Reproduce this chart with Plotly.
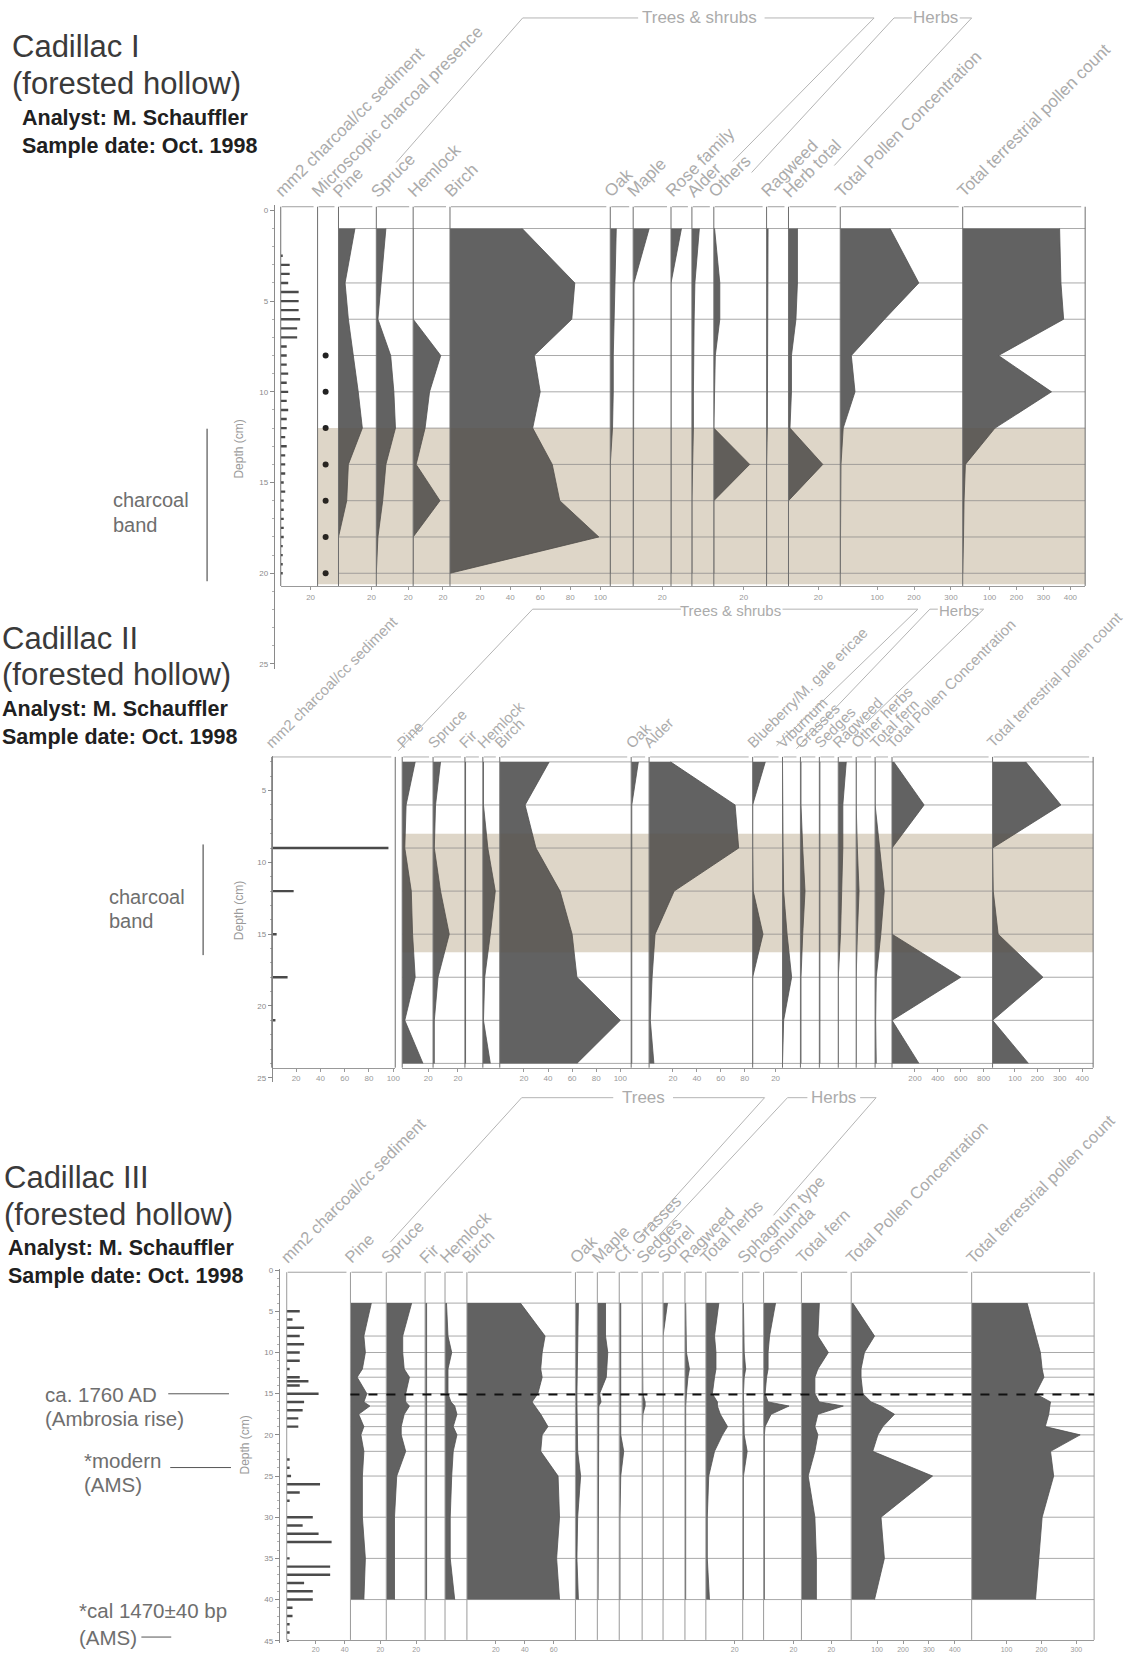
import plotly.graph_objects as go

W, H = 1127, 1655
FONT = "Liberation Sans, Arial, Helvetica, sans-serif"


def fx(px):
    return px / W


def fy(py):
    return 1 - py / H


# ======================= DATA =======================
# ---- Cadillac I ----
c1_depth = [1, 4, 6, 8, 10, 12, 14, 16, 18, 20]
c1_micro = [0, 0, 0, 1, 1, 1, 1, 1, 1, 1]
c1_pine = [10, 4, 6, 9, 12, 14.5, 6, 5, 0, 0]
c1_spruce = [6, 3, 1, 9, 11, 12, 6, 4, 1, 0]
c1_hemlock = [0, 0, 0, 18.5, 11, 8, 2, 18, 0, 0]
c1_birch = [48, 83, 81, 56, 60, 55, 68, 73, 99, 0]
c1_oak = [4, 3, 2.5, 2, 2, 1.5, 0, 0, 0, 0]
c1_maple = [11, 0.5, 0.5, 0.5, 0.5, 0.5, 0, 0, 0, 0]
c1_rose = [7, 0, 0, 0, 0, 0, 0, 0, 0, 0]
c1_alder = [5, 2, 1.5, 1, 1, 1, 0.5, 0, 0, 0]
c1_others = [0.5, 4, 4, 1, 0.5, 0, 24, 0, 0, 0]
c1_ragweed = [1, 1, 1, 1, 1, 0.5, 0, 0, 0, 0]
c1_herbs = [6, 6, 5, 2, 2, 1, 23, 0, 0, 0]
c1_conc = [135, 213, 120, 30, 40, 8, 2, 1, 0, 0]
c1_count = [360, 365, 375, 133, 330, 120, 10, 5, 3, 0]
c1_char_depth = [2.5, 3, 3.5, 4, 4.5, 5, 5.5, 6, 6.5, 7, 7.5, 8, 8.5, 9, 9.5, 10,
                 10.5, 11, 11.5, 12, 12.5, 13, 13.5, 14, 14.5, 15, 15.5, 16, 16.5,
                 17, 17.5, 18, 18.5, 19, 19.5, 20]
c1_char = [1, 6, 6, 5, 12, 12, 12, 13, 11, 11, 4, 4, 4, 5, 4, 5,
           4, 5, 4, 4, 3, 4, 3, 3, 3, 2, 3, 2, 2,
           2, 2, 2, 1, 1, 1, 1]
c1_band = [12, 20.6]

# ---- Cadillac II ----
c2_depth = [3, 6, 9, 12, 15, 18, 21, 24]
c2_char = [0, 0, 96, 18, 4, 13, 3, 0]
c2_pine = [10, 3, 2, 7, 8, 10, 2, 16]
c2_spruce = [6, 2, 1, 6, 13, 4, 1, 1]
c2_fir = [0.5, 0.5, 0.5, 1, 1, 0.5, 0.5, 0.5]
c2_hemlock = [0.5, 0.5, 4, 10, 6, 1.5, 0.5, 6]
c2_birch = [41, 21, 30, 50, 60, 64, 100, 64]
c2_oak = [6, 0.5, 0.5, 0.5, 0.5, 0.5, 0.5, 0.5]
c2_alder = [18, 72, 75, 21, 5, 2.5, 1, 4]
c2_blueberry = [11, 0, 0, 0.5, 9, 0, 0, 0]
c2_viburnum = [0, 0, 0.5, 1, 4, 8, 1, 0]
c2_grasses = [0.5, 0.5, 2, 4, 2, 0.5, 0.5, 0.5]
c2_sedges = [0.5, 0.5, 0.5, 0.5, 0.5, 0.5, 0.5, 0.5]
c2_ragweed = [7, 4, 4, 3, 2, 0, 0, 0]
c2_otherherbs = [0, 0, 1, 2.5, 1, 0, 0, 0]
c2_fern = [0, 0, 4, 8, 5, 1, 0.5, 1]
c2_conc = [15, 280, 0, 0, 0, 600, 0, 235]
c2_count = [148, 305, 0, 3, 25, 225, 0, 160]
c2_band = [8, 16.25]

# ---- Cadillac III ----
c3_depth = [4, 8, 10, 12, 13, 15, 16, 16.5, 17.5, 19, 20, 22, 25, 30, 35, 40]
c3_pine = [14, 9, 10, 8, 4.5, 11, 9, 13, 5.5, 9, 7, 9, 8, 8, 10, 9]
c3_spruce = [17, 11, 11, 12, 15.5, 13, 13, 15.5, 12, 10, 10, 13, 7, 5.5, 5.5, 5.5]
c3_fir = [1, 1, 1, 1, 1, 1, 1, 1, 1, 1, 1, 1, 1, 1, 1, 1]
c3_hemlock = [1, 2, 4.5, 2, 2, 2, 4, 6.5, 8, 5.5, 8, 5.5, 4.5, 3.5, 3.5, 6.5]
c3_birch = [37, 54, 52, 51, 52, 49, 45, 47, 51, 56, 52, 51, 63, 64, 62, 64]
c3_oak = [2, 1.5, 1.5, 1, 1, 1, 1, 1, 1, 1, 1, 1.5, 3.5, 1.5, 1, 2]
c3_maple = [5.5, 5.5, 7, 6.5, 6, 1.5, 2.5, 1, 1, 1, 0.5, 0.5, 0.5, 0.5, 0.5, 0.5]
c3_grasses = [1, 1, 1, 1, 1, 1, 1, 1, 1, 1, 1, 3, 1, 0.5, 0.5, 0.5]
c3_sedges = [0, 0, 0, 0, 0, 0.5, 2, 2, 0.5, 0, 0, 0, 0, 0, 0, 0]
c3_sorrel = [3, 0, 0, 0, 0, 0, 0, 0, 0, 0, 0, 0, 0, 0, 0, 0]
c3_ragweed = [0.5, 0.5, 1, 3, 2, 1, 0.5, 0.5, 0.5, 0.5, 0.5, 0.5, 0.5, 0.5, 0.5, 0.5]
c3_herbs = [9, 6, 7, 7, 6, 4.5, 8, 8, 10, 15, 11.5, 6, 2, 1, 1, 2.5]
c3_sphagnum = [0.5, 0.5, 1, 2, 1, 0.5, 0.5, 0.5, 0.5, 1, 1, 3, 0.5, 0.5, 0.5, 0.5]
c3_osmunda = [8, 4, 3, 3, 2, 1, 3, 17, 5, 1, 0.5, 0.5, 0.5, 0.5, 0.5, 0.5]
c3_fern = [12, 11, 18, 11, 9, 9, 12, 28, 11, 9, 11, 9, 4.5, 9, 10, 10]
c3_conc = [6, 90, 51, 38, 38, 45, 77, 115, 167, 122, 103, 83, 314, 115, 128, 90]
c3_count = [159, 183, 197, 202, 207, 183, 226, 224, 221, 211, 311, 226, 235, 202, 192, 183]
c3_char_depth = [5, 6, 7, 8, 9, 10, 11, 12, 13, 13.5, 14, 15, 16, 17, 18, 19, 23, 24,
                 25, 26, 27, 28, 30, 31, 32, 33, 35, 36, 37, 38, 39, 40, 41, 42, 43, 44, 45]
c3_char = [9, 4, 12, 9, 12, 9, 9, 2, 9, 15, 9, 22, 12, 11, 8, 8, 2, 2,
           3, 23, 9, 2, 18, 11, 22, 31, 2, 30, 30, 12, 18, 18, 4, 4, 2, 2, 1]
c3_ambrosia_depth = 15.1

# ======================= LAYOUT HELPERS =======================
fig = go.Figure()
axes = {}
shapes = []
anns = []
state = {"n": 0}

LABEL_C = "#ababab"
TICK_C = "#999999"
FILL_C = "#626262"


def pline(x0, y0, x1, y1, color="#b0b0b0", width=1, dash="solid"):
    shapes.append(dict(type="line", xref="paper", yref="paper",
                       x0=fx(x0), y0=fy(y0), x1=fx(x1), y1=fy(y1),
                       line=dict(color=color, width=width, dash=dash), layer="above"))


def ptext(x, y, text, size, color, xanchor="left", yanchor="middle", angle=0):
    anns.append(dict(xref="paper", yref="paper", x=fx(x), y=fy(y), text=text,
                     showarrow=False, xanchor=xanchor, yanchor=yanchor,
                     textangle=angle, font=dict(family=FONT, size=size, color=color)))


def new_xaxis(left, right, xmax, bottom_px, ticks, tsize):
    state["n"] += 1
    n = state["n"]
    key = "xaxis" if n == 1 else f"xaxis{n}"
    ref = "x" if n == 1 else f"x{n}"
    axes[key] = dict(domain=[fx(left), fx(right)], range=[0, xmax], anchor="free",
                     position=fy(bottom_px), showline=True, linecolor=TICK_C, linewidth=1,
                     ticks="outside", ticklen=3, tickwidth=1, tickcolor=TICK_C,
                     tickmode="array", tickvals=ticks, ticktext=[str(t) for t in ticks],
                     tickfont=dict(family=FONT, size=tsize, color=TICK_C),
                     showgrid=False, zeroline=False, fixedrange=True)
    return ref


def build_panel(P, cols):
    yref = P["yref"]
    ykey = "yaxis" if yref == "y" else "yaxis" + yref[1:]
    py = lambda d: P["px0"] + P["scale"] * d
    axes[ykey] = dict(domain=[fy(py(P["d_bot"])), fy(py(P["d_top"]))],
                      range=[P["d_bot"], P["d_top"]], anchor="free",
                      position=fx(P["axis_x"]), showline=True, linecolor="#8a8a8a",
                      ticks="outside", ticklen=4, tickcolor="#8a8a8a",
                      tickmode="array", tickvals=P["yticks"],
                      tickfont=dict(family=FONT, size=8, color="#8a8a8a"),
                      minor=dict(ticks="outside", dtick=1, ticklen=2, tickcolor="#b0b0b0"),
                      showgrid=False, zeroline=False, fixedrange=True)
    f_top, f_bot = P["frame"]
    bot_px = py(f_bot)
    top_px = py(f_top)

    if P.get("band"):
        b0, b1 = P["band"]
        # light tan underneath ...
        shapes.append(dict(type="rect", xref="paper", yref=yref, x0=fx(P["band_x"][0]),
                           x1=fx(P["band_x"][1]), y0=b0, y1=b1,
                           fillcolor="#efe9de", line=dict(width=0), layer="below"))
        # ... plus a faint brown veil on top that also tints the silhouettes
        shapes.append(dict(type="rect", xref="paper", yref=yref, x0=fx(P["band_x"][0]),
                           x1=fx(P["band_x"][1]), y0=b0, y1=b1,
                           fillcolor="rgba(90,60,25,0.11)", line=dict(width=0), layer="above"))
    for d in P["samples"]:
        shapes.append(dict(type="line", xref="paper", yref=yref, x0=fx(P["hline_x"][0]),
                           x1=fx(P["hline_x"][1]), y0=d, y1=d,
                           line=dict(color="#a9a9a9", width=1), layer="below"))

    xs = set()
    for label, kind, depths, vals, left, right, xmax, ticks in cols:
        ref = new_xaxis(left, right, xmax, bot_px, ticks, P["tick_size"])
        xs.add(left)
        xs.add(right)
        if kind == "fill":
            fig.add_trace(go.Scatter(x=vals, y=depths, xaxis=ref, yaxis=yref, mode="lines",
                                     fill="tozerox", fillcolor=FILL_C,
                                     line=dict(color="#525252", width=0.8),
                                     hoverinfo="skip", showlegend=False))
        elif kind == "bar":
            fig.add_trace(go.Bar(x=vals, y=depths, xaxis=ref, yaxis=yref, orientation="h",
                                 width=P["bar_w"], marker=dict(color="#4a4a4a", line=dict(width=0)),
                                 hoverinfo="skip", showlegend=False))
        elif kind == "dot":
            dd = [d for d, v in zip(depths, vals) if v]
            vv = [v for v in vals if v]
            fig.add_trace(go.Scatter(x=vv, y=dd, xaxis=ref, yaxis=yref, mode="markers",
                                     marker=dict(color="#222222", size=6),
                                     hoverinfo="skip", showlegend=False))
        shapes.append(dict(type="line", xref="paper", yref=yref, x0=fx(left + 1),
                           x1=fx(right - 4), y0=f_top, y1=f_top,
                           line=dict(color="#a0a0a0", width=1), layer="above"))
        ptext(left - 12, top_px - 3, label, P["label_size"], LABEL_C, "left", "bottom", -45)
    for x in sorted(xs):
        shapes.append(dict(type="line", xref="paper", yref=yref, x0=fx(x), x1=fx(x),
                           y0=f_top, y1=f_bot, line=dict(color=P["vcol"], width=1),
                           layer="above"))


# ======================= PANEL 1 =======================
P1 = dict(yref="y", px0=208, scale=18.2, d_top=-0.3, d_bot=25.3, axis_x=275,
          yticks=[0, 5, 10, 15, 20, 25], frame=(-0.2, 20.7), band=c1_band,
          band_x=(319, 1090), samples=c1_depth, hline_x=(340, 1090), bar_w=0.13,
          vcol="#6e6e6e", tick_size=8, label_size=17)
cols1 = [
    ("mm2 charcoal/cc sediment", "bar", c1_char_depth, c1_char, 282, 319, 24.7, [20]),
    ("Microscopic charcoal presence", "dot", c1_depth, c1_micro, 319, 340, 2.6, []),
    ("Pine", "fill", c1_depth, c1_pine, 340, 378, 23, [20]),
    ("Spruce", "fill", c1_depth, c1_spruce, 378, 415, 23.1, [20]),
    ("Hemlock", "fill", c1_depth, c1_hemlock, 415, 452, 24.7, [20]),
    ("Birch", "fill", c1_depth, c1_birch, 452, 613, 106.6, [20, 40, 60, 80, 100]),
    ("Oak", "fill", c1_depth, c1_oak, 613, 636, 15.3, []),
    ("Maple", "fill", c1_depth, c1_maple, 636, 674, 26, [20]),
    ("Rose family", "fill", c1_depth, c1_rose, 674, 695, 14, []),
    ("Alder", "fill", c1_depth, c1_alder, 695, 717, 14.7, []),
    ("Others", "fill", c1_depth, c1_others, 717, 770, 35.3, [20]),
    ("Ragweed", "fill", c1_depth, c1_ragweed, 770, 792, 14.7, []),
    ("Herb total", "fill", c1_depth, c1_herbs, 792, 844, 34.7, [20]),
    ("Total Pollen Concentration", "fill", c1_depth, c1_conc, 844, 967, 332, [100, 200, 300]),
    ("Total terrestrial pollen count", "fill", c1_depth, c1_count, 967, 1090, 455, [100, 200, 300, 400]),
]
build_panel(P1, cols1)

# ======================= PANEL 2 =======================
P2 = dict(yref="y2", px0=718, scale=14.4, d_top=2.6, d_bot=25.3, axis_x=273,
          yticks=[5, 10, 15, 20, 25], frame=(2.65, 24.3), band=c2_band,
          band_x=(404, 1098), samples=c2_depth, hline_x=(404, 1098), bar_w=0.17,
          vcol="#6e6e6e", tick_size=8, label_size=15)
cols2 = [
    ("mm2 charcoal/cc sediment", "bar", c2_depth, c2_char, 273, 397, 101.6, [20, 40, 60, 80, 100]),
    ("Pine", "fill", c2_depth, c2_pine, 404, 435, 23.8, [20]),
    ("Spruce", "fill", c2_depth, c2_spruce, 435, 467, 25.6, [20]),
    ("Fir", "fill", c2_depth, c2_fir, 467, 485, 14.4, []),
    ("Hemlock", "fill", c2_depth, c2_hemlock, 485, 502, 13.6, []),
    ("Birch", "fill", c2_depth, c2_birch, 502, 634, 109, [20, 40, 60, 80, 100]),
    ("Oak", "fill", c2_depth, c2_oak, 634, 652, 15, []),
    ("Alder", "fill", c2_depth, c2_alder, 652, 756, 86.7, [20, 40, 60, 80]),
    ("Blueberry/M. gale ericae", "fill", c2_depth, c2_blueberry, 756, 786, 26, [20]),
    ("Viburnum", "fill", c2_depth, c2_viburnum, 786, 804, 15.7, []),
    ("Grasses", "fill", c2_depth, c2_grasses, 804, 823, 16.5, []),
    ("Sedges", "fill", c2_depth, c2_sedges, 823, 842, 16.5, []),
    ("Ragweed", "fill", c2_depth, c2_ragweed, 842, 860, 15.7, []),
    ("Other herbs", "fill", c2_depth, c2_otherherbs, 860, 879, 16.5, []),
    ("Total fern", "fill", c2_depth, c2_fern, 879, 896, 14.8, []),
    ("Total Pollen Concentration", "fill", c2_depth, c2_conc, 896, 997, 878, [200, 400, 600, 800]),
    ("Total terrestrial pollen count", "fill", c2_depth, c2_count, 997, 1098, 449, [100, 200, 300, 400]),
]
build_panel(P2, cols2)

# ======================= PANEL 3 =======================
P3 = dict(yref="y3", px0=1271, scale=8.26, d_top=-0.2, d_bot=45.3, axis_x=280,
          yticks=[0, 5, 10, 15, 20, 25, 30, 35, 40, 45], frame=(0.25, 44.9),
          samples=c3_depth, hline_x=(352, 1099), bar_w=0.3, vcol="#9a9a9a",
          tick_size=7, label_size=16.5)
cols3 = [
    ("mm2 charcoal/cc sediment", "bar", c3_char_depth, c3_char, 288, 352, 44, [20, 40]),
    ("Pine", "fill", c3_depth, c3_pine, 352, 388, 24, [20]),
    ("Spruce", "fill", c3_depth, c3_spruce, 388, 427, 26, [20]),
    ("Fir", "fill", c3_depth, c3_fir, 427, 447, 13.3, []),
    ("Hemlock", "fill", c3_depth, c3_hemlock, 447, 469, 14.7, []),
    ("Birch", "fill", c3_depth, c3_birch, 469, 578, 75, [20, 40, 60]),
    ("Oak", "fill", c3_depth, c3_oak, 578, 600, 14.7, []),
    ("Maple", "fill", c3_depth, c3_maple, 600, 622, 14.7, []),
    ("Cf. Grasses", "fill", c3_depth, c3_grasses, 622, 645, 15.3, []),
    ("Sedges", "fill", c3_depth, c3_sedges, 645, 666, 14, []),
    ("Sorrel", "fill", c3_depth, c3_sorrel, 666, 688, 14.7, []),
    ("Ragweed", "fill", c3_depth, c3_ragweed, 688, 709, 14, []),
    ("Total herbs", "fill", c3_depth, c3_herbs, 709, 746, 25.5, [20]),
    ("Sphagnum type", "fill", c3_depth, c3_sphagnum, 746, 767, 14, []),
    ("Osmunda", "fill", c3_depth, c3_osmunda, 767, 805, 25.3, [20]),
    ("Total fern", "fill", c3_depth, c3_fern, 805, 855, 33.3, [20]),
    ("Total Pollen Concentration", "fill", c3_depth, c3_conc, 855, 976, 465, [100, 200, 300, 400]),
    ("Total terrestrial pollen count", "fill", c3_depth, c3_count, 976, 1099, 351, [100, 200, 300]),
]
build_panel(P3, cols3)

shapes.append(dict(type="line", xref="paper", yref="y3", x0=fx(352), x1=fx(1099),
                   y0=c3_ambrosia_depth, y1=c3_ambrosia_depth,
                   line=dict(color="#111111", width=2, dash="dash"), layer="above"))

# ======================= TITLES & NOTES =======================
TITLE_C = "#3a3a3a"
SUB_C = "#202020"
for (x, y0, name, x2) in [(10, 44, "Cadillac I", 20), (0, 637, "Cadillac II", 0), (2, 1178, "Cadillac III", 6)]:
    ptext(x, y0, name, 31, TITLE_C)
    ptext(x, y0 + 37, "(forested hollow)", 31, TITLE_C)
    ptext(x2, y0 + 71, "<b>Analyst: M. Schauffler</b>", 21.5, SUB_C)
    ptext(x2, y0 + 99, "<b>Sample date: Oct. 1998</b>", 21.5, SUB_C)

NOTE_C = "#6e6e6e"
ptext(240, 447, "Depth (cm)", 12, "#9a9a9a", "center", "middle", -90)
ptext(240, 910, "Depth (cm)", 12, "#9a9a9a", "center", "middle", -90)
ptext(246, 1446, "Depth (cm)", 12, "#9a9a9a", "center", "middle", -90)

ptext(111, 499, "charcoal", 20, NOTE_C)
ptext(111, 524, "band", 20, NOTE_C)
pline(208, 427, 208, 580, "#333333", 1)
ptext(107, 897, "charcoal", 20, NOTE_C)
ptext(107, 921, "band", 20, NOTE_C)
pline(204, 844, 204, 955, "#333333", 1)

ptext(43, 1396, "ca. 1760 AD", 20.5, NOTE_C)
ptext(43, 1420, "(Ambrosia rise)", 20.5, NOTE_C)
pline(169, 1395, 230, 1395, "#555555", 1)
ptext(82, 1462, "*modern", 20.5, NOTE_C)
ptext(82, 1486, "(AMS)", 20.5, NOTE_C)
pline(171, 1469, 232, 1469, "#555555", 1)
ptext(77, 1612, "*cal 1470\u00b140 bp", 20.5, NOTE_C)
ptext(77, 1639, "(AMS)", 20.5, NOTE_C)
pline(142, 1639, 172, 1639, "#555555", 1)

# ======================= GROUP BRACKETS =======================
BR_C = "#b4b4b4"
pline(525, 15, 641, 15, BR_C)
ptext(703, 15, "Trees &amp; shrubs", 17, LABEL_C, "center")
pline(768, 15, 878, 15, BR_C)
pline(525, 15, 398, 160, BR_C)
pline(878, 15, 736, 159, BR_C)
pline(898, 15, 916, 15, BR_C)
ptext(940, 15, "Herbs", 17, LABEL_C, "center")
pline(964, 15, 976, 15, BR_C)
pline(898, 15, 755, 170, BR_C)
pline(976, 15, 838, 163, BR_C)

pline(535, 608, 684, 608, BR_C)
ptext(734, 609, "Trees &amp; shrubs", 15, LABEL_C, "center")
pline(786, 608, 922, 608, BR_C)
pline(535, 608, 400, 750, BR_C)
pline(922, 608, 780, 745, BR_C)
pline(934, 608, 942, 608, BR_C)
ptext(963, 609, "Herbs", 15, LABEL_C, "center")
pline(984, 608, 988, 608, BR_C)
pline(934, 608, 800, 748, BR_C)
pline(988, 608, 870, 722, BR_C)

pline(524, 1098, 616, 1098, BR_C)
ptext(646, 1098, "Trees", 17, LABEL_C, "center")
pline(676, 1098, 768, 1098, BR_C)
pline(524, 1098, 392, 1243, BR_C)
pline(768, 1098, 640, 1240, BR_C)
pline(791, 1098, 811, 1098, BR_C)
ptext(837, 1098, "Herbs", 17, LABEL_C, "center")
pline(864, 1098, 880, 1098, BR_C)
pline(791, 1098, 661, 1237, BR_C)
pline(880, 1098, 777, 1216, BR_C)

fig.update_layout(width=W, height=H, margin=dict(l=0, r=0, t=0, b=0),
                  paper_bgcolor="white", plot_bgcolor="rgba(0,0,0,0)",
                  showlegend=False, shapes=shapes, annotations=anns,
                  font=dict(family=FONT), **axes)

fig.write_html("out.html", config={"displayModeBar": False},
               post_script="document.body.style.margin='0px';")
